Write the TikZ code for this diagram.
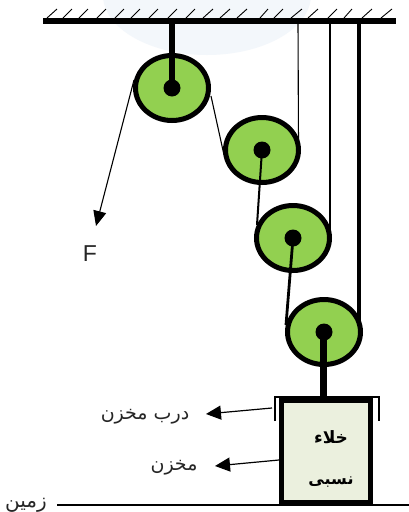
\documentclass[tikz,border=0pt]{standalone}
\usepackage{fontspec}
\setmainfont{Liberation Sans}
\newfontfamily\arabicfont[Script=Arabic]{DejaVu Sans}
\TeXXeTstate=1
\usetikzlibrary{shapes.geometric,arrows.meta}
\definecolor{pgreen}{HTML}{92D050}
\definecolor{boxfill}{HTML}{EBF0DE}
\definecolor{blob}{HTML}{F3F7FB}
\tikzset{
  pulley/.style={ellipse,draw=black,fill=pgreen,line width=5pt,minimum width=73pt,minimum height=65pt,inner sep=0pt,outer sep=0pt},
  hubdot/.style={circle,fill=black,minimum size=17pt,inner sep=0pt,outer sep=0pt},
  hatch/.style={line width=0.9pt,black},
  rope/.style={black,line width=#1},
  pointer/.style={black,line width=1.2pt,-{Triangle[length=15pt,width=14pt]}},
  farsi/.style={font=\arabicfont\fontsize{#1}{#1}\selectfont,text=black!85,inner sep=0pt},
  farsibold/.style={font=\arabicfont\bfseries\fontsize{#1}{#1}\selectfont,text=black,inner sep=0pt}
}
\begin{document}
\begin{tikzpicture}[x=1pt,y=-1pt]
\useasboundingbox (0,0) rectangle (409,512);
\fill[white] (0,0) rectangle (409,512);
\begin{scope}
\clip (0,0) rectangle (409,512);
\fill[blob] (207,-5) ellipse [x radius=104,y radius=60];
\end{scope}
% hatching
\foreach \xa/\xb in {57/47,72/63,88/79,106/97,124/115,140/131,158/149,177/168,195/186,213/203,230/220,247/237,268/260,283/274,302/291,318/308,337/328,352/344,372/362,392/381}
  \draw[hatch] (\xa,9) -- (\xb,18);
% ceiling
\coordinate (ceilL) at (43,21);
\coordinate (ceilR) at (396,21);
\draw[black,line width=6pt] (ceilL) -- (ceilR);
\coordinate (anchorA) at (172,21);
\coordinate (anchorB) at (298,21);
\coordinate (anchorC) at (330,21);
\coordinate (anchorD) at (359,21);
% pulley nodes
\node[pulley] (p1) at (172,88) {};
\node[pulley] (p2) at (262,150) {};
\node[pulley] (p3) at (293,238) {};
\node[pulley] (p4) at (324,332) {};
\node[hubdot] (h1) at (p1.center) {};
\node[hubdot] (h2) at (p2.center) {};
\node[hubdot] (h3) at (p3.center) {};
\node[hubdot] (h4) at (p4.center) {};
% box
\node[draw=black,fill=boxfill,line width=5pt,minimum width=89pt,minimum height=102pt,inner sep=0pt,outer sep=0pt] (tank) at (326,451) {};
% door
\coordinate (doorL) at (275,421);
\coordinate (doorR) at (379,421);
\draw[black,line width=1.5pt] (doorL) -- (275,397) -- (379,397) -- (doorR);
% ground
\coordinate (gndL) at (57,505);
\coordinate (gndR) at (409,505);
\draw[black,line width=1.5pt] (gndL) -- (gndR);
% ropes
\coordinate (Ftip) at (96,226);
\node[font=\fontsize{23}{23}\selectfont,inner sep=0pt,text=black!85] (Flabel) at (90,254) {F};
\draw[rope=1.1pt,-{Triangle[length=15pt,width=13pt]}] (134,80) -- (Ftip);
\draw[rope=1.1pt] (211,96) -- (224,155);
\draw[rope=1.1pt] (anchorB) -- (298.5,145);
\draw[rope=1.8pt] (anchorC) -- (330,230);
\draw[rope=4pt] (anchorD) -- (359,325);
\draw[rope=6pt] (anchorA) -- (h1.center);
\draw[rope=2pt] (h2.center) -- (257,225);
\draw[rope=2.8pt] (h3.center) -- (286,325);
\draw[rope=7pt] (323,332) -- (323,398);
% labels
\node[farsi=19] (ldoor) at (145,417) {\beginR درب مخزن\endR};
\node[farsi=19] (ltank) at (174,468) {\beginR مخزن\endR};
\node[farsi=20] (lground) at (26,505) {\beginR زمین\endR};
\node[farsibold=17] (t1) at (331,437) {\beginR خلاء\endR};
\node[farsibold=16] (t2) at (331,482) {\beginR نسبی\endR};
\coordinate (dp) at (272,408);
\coordinate (dq) at (206,414);
\coordinate (tp) at (279,460);
\coordinate (tq) at (215,466);
\draw[pointer] (dp) -- (dq);
\draw[pointer] (tp) -- (tq);
\end{tikzpicture}
\end{document}
